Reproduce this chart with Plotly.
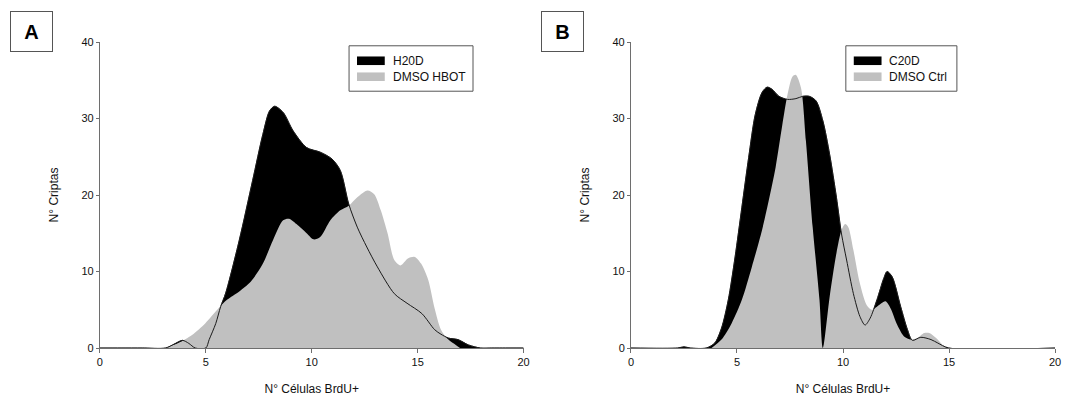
import plotly.graph_objects as go

# ---------------- data ----------------
# Panel A
a_h20d_x = [0, 1, 2, 3.1, 3.5, 3.9, 4.2, 4.5, 5.0, 5.16, 5.47, 5.7, 5.94, 6.58, 7.21, 7.69, 8.01, 8.25,
            8.65, 9.12, 9.76, 10.4, 10.96, 11.35, 11.75, 12.15, 12.6, 13.1, 13.9, 14.5, 15.2, 15.8,
            16.1, 16.45, 16.9, 17.4, 17.96, 18.5, 19, 20]
a_h20d_y = [0, 0, 0, 0, 0.5, 1.0, 0.6, 0, 0, 1.1, 3.2, 5.4, 7.2, 14.1, 21.9, 27.9, 31.0, 31.6,
            30.8, 28.4, 26.2, 25.6, 24.7, 23.2, 18.8, 15.8, 13.2, 10.6, 7.1, 5.85, 4.5, 2.4,
            1.8, 1.3, 1.1, 0.4, 0, 0, 0, 0]

a_dmso_x = [3.07, 3.7, 4.35, 4.98, 5.6, 6.0, 6.58, 7.13, 7.69, 8.17, 8.65, 8.93, 9.28, 9.76, 10.08,
            10.4, 10.88, 11.35, 11.75, 12.15, 12.63, 12.95, 13.26, 13.58, 13.9, 14.19, 14.54, 14.86,
            15.17, 15.5, 15.8, 16.1, 16.45, 16.8, 17.0]
a_dmso_y = [0, 0.65, 1.7, 3.25, 5.2, 6.3, 7.4, 8.7, 11.0, 14.1, 16.7, 16.9, 16.2, 15.0, 14.2,
            14.5, 16.7, 18.0, 18.6, 19.7, 20.6, 20.1, 18.0, 15.0, 11.5, 10.8, 11.7, 11.9,
            11.0, 8.9, 5.2, 2.4, 1.1, 0.4, 0]

# Panel B
b_c20d_x = [0, 2.2, 2.5, 2.8, 3.55, 3.95, 4.27, 4.59, 4.91, 5.23, 5.55, 5.86, 6.18, 6.42, 6.66, 6.98,
            7.38, 7.78, 8.1, 8.41, 8.73, 9.05, 9.37, 9.69, 9.93, 10.17, 10.49, 10.8, 11.04, 11.28,
            11.6, 11.92, 12.08, 12.32, 12.72, 13.04, 13.27, 13.67, 14.15, 14.47, 14.98, 20]
b_c20d_y = [0, 0, 0.15, 0, 0, 0.65, 2.6, 6.3, 11.9, 18.4, 24.9, 30.5, 33.4, 34.1, 33.8, 32.9,
            32.5, 32.6, 32.9, 32.9, 32.3, 29.7, 25.3, 19.7, 14.9, 11.5, 7.1, 4.1, 3.0, 3.9,
            6.3, 9.1, 10.0, 9.3, 5.4, 2.4, 1.0, 1.4, 1.1, 0.65, 0, 0]

b_dmso_x = [3.8, 4.27, 4.75, 5.23, 5.7, 6.18, 6.5, 6.82, 7.14, 7.38, 7.62, 7.78, 8.02, 8.25, 8.57,
            8.89, 9.05, 9.37, 9.69, 9.93, 10.1, 10.25, 10.49, 10.8, 11.12, 11.36, 11.6, 12.0, 12.24,
            12.56, 12.88, 13.2, 13.5, 13.83, 14.07, 14.39, 14.7, 14.9]
b_dmso_y = [0, 1.1, 3.25, 6.3, 10.6, 15.4, 19.3, 23.6, 29.2, 33.1, 35.5, 35.7, 34.0, 27.1, 15.8,
            6.3, 0, 6.7, 12.4, 15.4, 16.2, 15.8, 12.8, 8.4, 5.6, 5.0, 5.4, 6.1, 5.2,
            3.0, 1.5, 1.1, 1.3, 1.95, 1.95, 1.3, 0.4, 0]

x_ticks = [0, 5, 10, 15, 20]
y_ticks = [0, 10, 20, 30, 40]
x_title = "N° Células BrdU+"
y_title = "N° Criptas"
panel_labels = ["A", "B"]
legend_names_a = ["H20D", "DMSO HBOT"]
legend_names_b = ["C20D", "DMSO Ctrl"]

BLACK = "#000000"
GRAY = "#c0c0c0"
FONT = "Liberation Sans, Arial, sans-serif"

W, H = 1068, 399
T, B = 41.7, 50.7
PH = H - T - B


def py(pix):  # figure pixel y -> plot-area paper y
    return 1 - (pix - T) / PH


def px(pix):  # figure pixel x -> paper x (no side margins)
    return pix / W


fig = go.Figure()


def add_panel(xb, yb, nb, xg, yg, ng, xa, ya):
    fig.add_trace(go.Scatter(x=xb, y=yb, name=nb, mode="lines", fill="tozeroy", showlegend=False,
                             fillcolor=BLACK, line=dict(color=BLACK, width=0.5, shape="spline", smoothing=0.8),
                             xaxis=xa, yaxis=ya))
    fig.add_trace(go.Scatter(x=xg, y=yg, name=ng, mode="lines", fill="tozeroy", showlegend=False,
                             fillcolor=GRAY, line=dict(color=GRAY, width=0, shape="spline", smoothing=0.8),
                             xaxis=xa, yaxis=ya))
    fig.add_trace(go.Scatter(x=xb, y=yb, name=nb, mode="lines", showlegend=False,
                             line=dict(color="#1a1a1a", width=1, shape="spline", smoothing=0.8),
                             xaxis=xa, yaxis=ya))


add_panel(a_h20d_x, a_h20d_y, legend_names_a[0], a_dmso_x, a_dmso_y, legend_names_a[1], "x", "y")
add_panel(b_c20d_x, b_c20d_y, legend_names_b[0], b_dmso_x, b_dmso_y, legend_names_b[1], "x2", "y2")

axcol = "#6e6e6e"
xcommon = dict(range=[0, 20], tickvals=x_ticks, ticks="outside", ticklen=4, tickcolor=axcol,
               showline=True, linecolor=axcol, linewidth=1, showgrid=False, zeroline=False,
               tickfont=dict(size=11, color="#111", family=FONT),
               title=dict(text=x_title, font=dict(size=12, color="#111", family=FONT), standoff=17))
ycommon = dict(range=[0, 40], tickvals=y_ticks, ticks="outside", ticklen=3, tickcolor=axcol,
               showline=True, linecolor=axcol, linewidth=1, showgrid=False, zeroline=False,
               tickfont=dict(size=11, color="#111", family=FONT),
               title=dict(text=y_title, font=dict(size=12, color="#111", family=FONT), standoff=20))

shapes = []
annotations = []

# manual legends
for (bx0, bx1, names) in [(349, 474, legend_names_a), (850, 962, legend_names_b)]:
    shapes.append(dict(type="rect", xref="paper", yref="paper", x0=px(bx0), x1=px(bx1),
                       y0=py(45.5), y1=py(91), line=dict(color="#555", width=1), fillcolor="white",
                       layer="above"))
    for i, (nm, col) in enumerate(zip(names, [BLACK, GRAY])):
        cy = 60.5 + i * 16
        shapes.append(dict(type="rect", xref="paper", yref="paper", x0=px(bx0 + 8), x1=px(bx0 + 36),
                           y0=py(cy - 4.3), y1=py(cy + 4.3), line=dict(width=0), fillcolor=col,
                           layer="above"))
        annotations.append(dict(text=nm, xref="paper", yref="paper", x=px(bx0 + 42), y=py(cy),
                                xanchor="left", yanchor="middle", showarrow=False,
                                font=dict(size=12, family=FONT, color="#111")))

# panel letter boxes
for lab, cx in zip(panel_labels, [28.9, 564.6]):
    annotations.append(dict(text="<b>%s</b>" % lab, x=px(cx), y=py(31.5), xref="paper", yref="paper",
                            showarrow=False, font=dict(size=20, family=FONT, color="black"),
                            bordercolor="#555", borderwidth=1, width=39, height=37,
                            xanchor="center", yanchor="middle"))

fig.update_layout(
    width=W, height=H,
    margin=dict(l=0, r=0, t=T, b=B),
    paper_bgcolor="white", plot_bgcolor="white",
    xaxis=dict(domain=[97.7 / W, 525 / W], anchor="y", **xcommon),
    yaxis=dict(domain=[0, 1], anchor="x", **ycommon),
    xaxis2=dict(domain=[633.3 / W, 1061 / W], anchor="y2", **xcommon),
    yaxis2=dict(domain=[0, 1], anchor="x2", **ycommon),
    shapes=shapes,
    annotations=annotations,
    showlegend=False,
)

fig.write_html("out.html")
